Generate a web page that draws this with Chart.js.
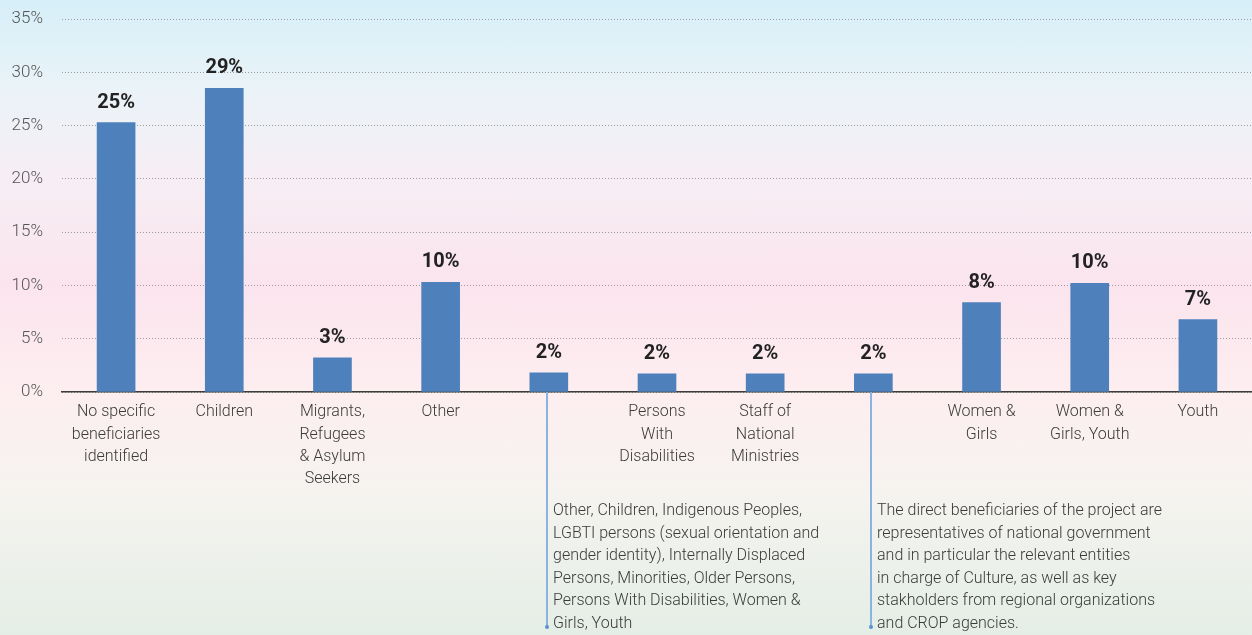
<!DOCTYPE html>
<html>
<head>
<meta charset="utf-8">
<script src="https://cdn.jsdelivr.net/npm/chart.js@4/dist/chart.umd.min.js"></script>
<style>
  html, body { margin: 0; padding: 0; }
  body {
    width: 1252px; height: 635px; overflow: hidden;
    background:
      linear-gradient(180deg, #d6eff8 0%, #eaf3f8 14%, #f6eef4 28%, #fbe4ee 45%, #fdeef0 62%, #f5f3ef 78%, #e4eee6 100%);
  }
  #wrap { position: relative; width: 1252px; height: 635px; overflow: hidden; }
  #my-chart { display: block; margin-top: -10px; }
</style>
</head>
<body>
<div id="wrap"><canvas id="my-chart" width="1252" height="645"></canvas></div>
<script>
const categories = [
  ['No specific', 'beneficiaries', 'identified'],
  ['Children'],
  ['Migrants,', 'Refugees', '& Asylum', 'Seekers'],
  ['Other'],
  [''],
  ['Persons', 'With', 'Disabilities'],
  ['Staff of', 'National', 'Ministries'],
  [''],
  ['Women &', 'Girls'],
  ['Women &', 'Girls, Youth'],
  ['Youth']
];
const shares = [25.3, 28.5, 3.2, 10.3, 1.8, 1.7, 1.7, 1.7, 8.4, 10.2, 6.8];
const yTicks = [0, 5, 10, 15, 20, 25, 30, 35];

// long labels hung under the two unnamed bars
const notes = [
  { index: 4, lines: ['Other, Children, Indigenous Peoples,', 'LGBTI persons (sexual orientation and', 'gender identity), Internally Displaced', 'Persons, Minorities, Older Persons,', 'Persons With Disabilities, Women &', 'Girls, Youth'] },
  { index: 7, lines: ['The direct beneficiaries of the project are', 'representatives of national government', 'and in particular the relevant entities', 'in charge of Culture, as well as key', 'stakholders from regional organizations', 'and CROP agencies.'] }
];

const thin = 'Roboto, sans-serif';

const valueLabels = {
  id: 'valueLabels',
  afterDatasetsDraw(chart) {
    const ctx = chart.ctx;
    const meta = chart.getDatasetMeta(0);
    ctx.save();
    ctx.font = 'bold 20px Roboto, sans-serif';
    ctx.fillStyle = '#222';
    ctx.textAlign = 'center';
    ctx.textBaseline = 'bottom';
    meta.data.forEach((bar, i) => {
      ctx.fillText(Math.round(shares[i]) + '%', bar.x, bar.y - 10);
    });
    ctx.restore();
  }
};

const noteLines = {
  id: 'noteLines',
  afterDraw(chart) {
    const ctx = chart.ctx;
    const x = chart.scales.x;
    const bottom = chart.chartArea.bottom;
    ctx.save();
    notes.forEach(n => {
      const px = Math.round(x.getPixelForValue(n.index)) - 2;
      ctx.strokeStyle = '#8ab3e2';
      ctx.lineWidth = 2;
      ctx.beginPath();
      ctx.moveTo(px, bottom);
      ctx.lineTo(px, bottom + 235);
      ctx.stroke();
      ctx.fillStyle = '#5b8fd0';
      ctx.beginPath();
      ctx.arc(px, bottom + 235, 2, 0, Math.PI * 2);
      ctx.fill();
      ctx.font = '300 16px ' + thin;
      ctx.fillStyle = '#3a3a3a';
      ctx.textAlign = 'left';
      ctx.textBaseline = 'middle';
      n.lines.forEach((line, k) => {
        ctx.fillText(line, px + 6, bottom + 119 + k * 22.6);
      });
    });
    ctx.restore();
  }
};

const ctx = document.getElementById('my-chart').getContext('2d');
const chart = new Chart(ctx, {
  type: 'bar',
  data: {
    labels: categories,
    datasets: [{
      data: shares,
      backgroundColor: '#4e80bc',
      barThickness: 38
    }]
  },
  options: {
    responsive: false,
    animation: false,
    layout: { padding: { top: 8, right: 0, left: 0, bottom: 0 } },
    plugins: { legend: { display: false }, tooltip: { enabled: false } },
    scales: {
      x: {
        grid: { display: false, drawTicks: false },
        border: { display: true, color: '#3d3d3d', width: 1.5 },
        ticks: {
          padding: 9,
          maxRotation: 0,
          autoSkip: false,
          color: '#3a3a3a',
          font: { family: thin, size: 16, weight: 300, lineHeight: 1.4 }
        },
        afterFit(scale) { scale.height = 243; }
      },
      y: {
        min: 0,
        max: 35,
        afterBuildTicks(scale) { scale.ticks = yTicks.map(v => ({ value: v })); },
        grid: {
          drawTicks: false,
          color: '#9a9a9a',
          lineWidth: 1
        },
        border: { display: false, dash: [1, 2] },
        ticks: {
          padding: 19,
          color: '#555',
          font: { family: thin, size: 17, weight: 300 },
          callback: v => v + '%'
        },
        afterFit(scale) { scale.width = 62; }
      }
    }
  },
  plugins: [valueLabels, noteLines]
});
</script>
</body>
</html>
